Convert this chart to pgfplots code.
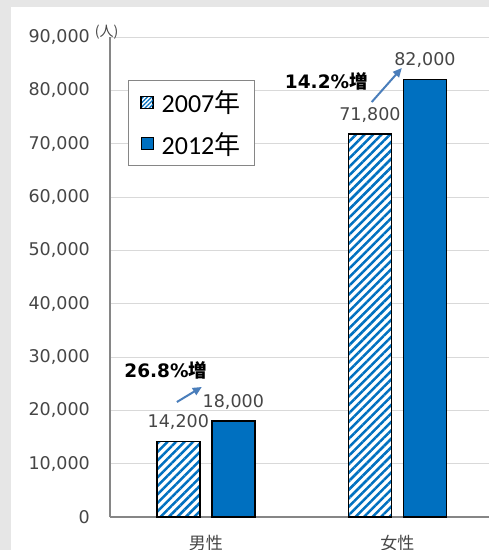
\documentclass[border=0pt]{standalone}
\usepackage{fontspec}
\setmainfont{DejaVu Sans}
\newfontfamily\jp{Noto Sans CJK JP}
\newfontfamily\carl{Carlito}
\usepackage{pgfplots}
\pgfplotsset{compat=1.18}
\usetikzlibrary{patterns.meta,arrows.meta}
\definecolor{barblue}{RGB}{0,112,192}
\definecolor{arrowblue}{RGB}{74,126,187}
\definecolor{bggray}{RGB}{230,230,230}
\definecolor{gridgray}{RGB}{217,217,217}
\definecolor{axisgray}{RGB}{134,134,134}
\definecolor{txtgray}{RGB}{70,70,70}
\begin{document}
\begin{tikzpicture}
\useasboundingbox (0pt,0pt) rectangle (489pt,550pt);
\fill[bggray] (0pt,0pt) rectangle (489pt,550pt);
\fill[white] (11pt,0pt) rectangle (489pt,543pt);
\begin{axis}[
  at={(110pt,33pt)}, anchor=south west,
  scale only axis, width=379pt, height=480pt,
  xmin=-0.5, xmax=1.478, ymin=0, ymax=90000,
  ybar=12pt, bar width=43pt,
  xtick={0,1}, xticklabels={{\jp 男性},{\jp 女性}},
  ytick={0,10000,...,90000},
  scaled y ticks=false,
  /pgf/number format/.cd, 1000 sep={,}, assume math mode=true, /pgfplots/.cd,
  ymajorgrids, grid style={gridgray, line width=1pt},
  axis x line*=bottom, axis y line*=left,
  axis line style={axisgray, line width=1.5pt, -},
  major tick length=0pt,
  tick label style={font=\fontsize{17.5}{20}\selectfont, text=txtgray},
  yticklabel style={inner sep=0pt, xshift=-20pt},
  xticklabel style={anchor=center, yshift=-26pt, font=\fontsize{17}{20}\selectfont},
  nodes near coords,
  every node near coord/.append style={anchor=base, yshift=14pt, font=\fontsize{17.5}{20}\selectfont, text=txtgray},
  legend style={at={(0.0475,0.910)}, anchor=north west, draw=axisgray, line width=1pt,
    font=\carl\fontsize{26}{28}\selectfont, inner xsep=12pt, inner ysep=8pt, row sep=14pt,
    nodes={inner sep=2pt}},
  legend cell align=left,
  clip=false,
]
\addplot[draw=black, line width=1.5pt, preaction={fill=white}, pattern color=barblue,
  pattern={Lines[angle=45,distance=6pt,line width=2.5pt]},
  legend image code/.code={\draw[black, line width=1pt, preaction={fill=white}, pattern color=barblue, pattern={Lines[angle=45,distance=3pt,line width=1.2pt]}] (0pt,-6pt) rectangle (12pt,6pt);}]
  coordinates {(0,14200) (1,71800)};
\addlegendentry{\hspace{6pt}2007{\jp 年}}
\addplot[draw=black, line width=1.5pt, fill=barblue,
  legend image code/.code={\draw[black, line width=1pt, fill=barblue] (0pt,-6pt) rectangle (12pt,6pt);}]
  coordinates {(0,18000) (1,82000)};
\addlegendentry{\hspace{6pt}2012{\jp 年}}
\node[font=\jp\fontsize{14}{14}\selectfont, text=txtgray] at (axis cs:-0.5,90000) [xshift=-3.5pt, yshift=4.5pt] {(人)};
\node[font=\bfseries\fontsize{18.5}{20}\selectfont] at (axis cs:0.629,81750) {14.2\%{\jp\bfseries 増}};
\node[font=\bfseries\fontsize{18.5}{20}\selectfont] at (axis cs:-0.209,27560) {26.8\%{\jp\bfseries 増}};
\draw[arrowblue, line width=2pt, -{Triangle[length=9pt,width=8pt]}] (axis cs:0.866,77810) -- (axis cs:1.023,84190);
\draw[arrowblue, line width=2pt, -{Triangle[length=9pt,width=8pt]}] (axis cs:-0.151,21560) -- (axis cs:-0.021,24380);
\end{axis}
\end{tikzpicture}
\end{document}
